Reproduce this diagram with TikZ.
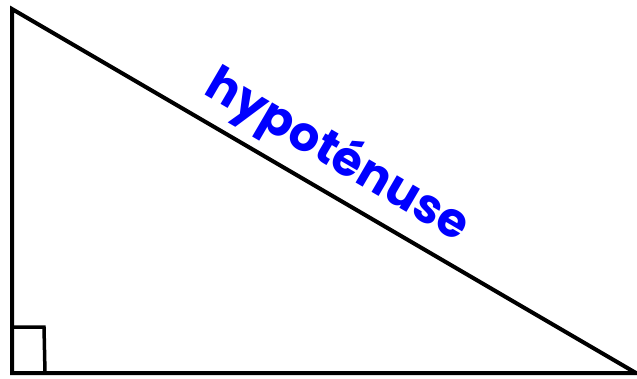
\documentclass[tikz,border=0pt]{standalone}
\usepackage{fontspec}
\newfontfamily\hypfont{Poppins}
\begin{document}
\begin{tikzpicture}[x=1pt,y=-1pt]
            \useasboundingbox (0,0) rectangle (637,378);
            
            \coordinate (A) at (12,9);
            \coordinate (B) at (12,373);
            \coordinate (C) at (636,373);
            
            \draw[line width=4pt,line join=miter] (A) -- (B) -- (C) -- cycle;
            \draw[line width=3.5pt] (10,327) -- (44,327) -- (45,373);
            
            \node[text=blue,rotate=-30.3,font=\hypfont\bfseries\fontsize{48}{50}\selectfont] (hyp) at (337,156) {hypoténuse};
            
        \end{tikzpicture}
\end{document}
